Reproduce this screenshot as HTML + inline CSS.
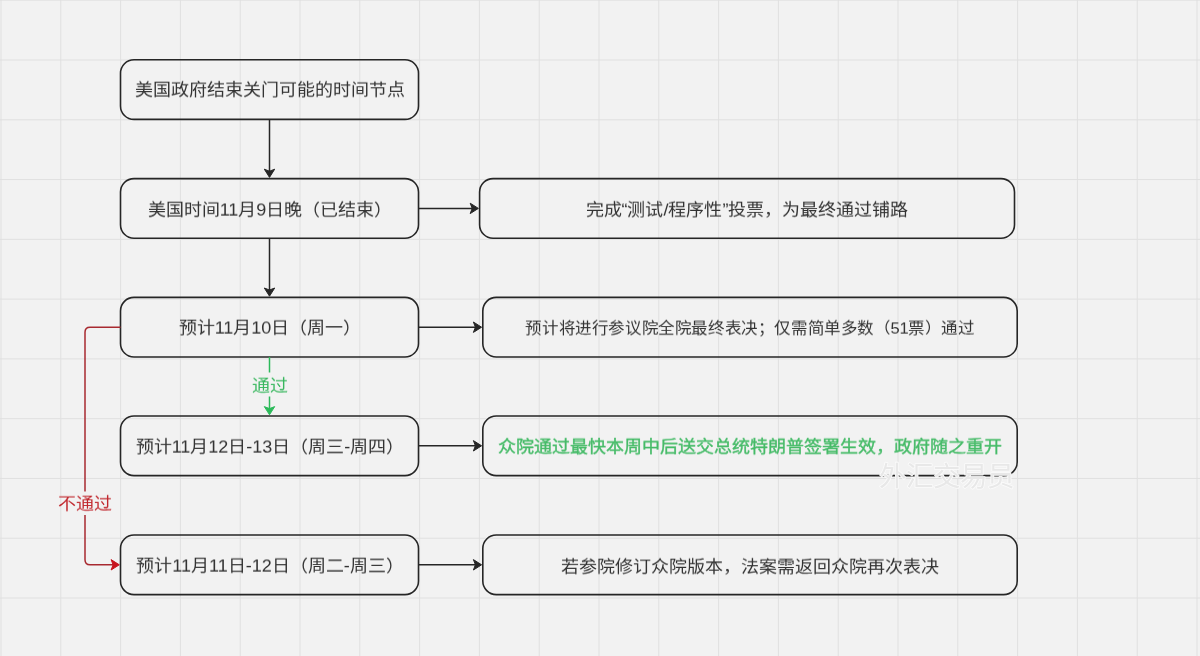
<!DOCTYPE html>
<html lang="zh-CN"><head><meta charset="utf-8"><style>
html,body{margin:0;padding:0;background:#f2f2f2;}
body{width:1200px;height:656px;position:relative;overflow:hidden;font-family:"Liberation Sans", sans-serif;}
svg{position:absolute;left:0;top:0;}
#w{position:absolute;left:0;top:0;width:1200px;height:656px;filter:blur(0.3px);}
.t{position:absolute;will-change:transform;transform:scaleY(0.93);width:600px;height:40px;line-height:40px;text-align:center;white-space:nowrap;}
</style></head><body>
<div id="w">
<svg width="1200" height="656" viewBox="0 0 1200 656">
<rect x="0.50" y="0" width="1" height="656" fill="#e0e0e0"/>
<rect x="60.30" y="0" width="1" height="656" fill="#e0e0e0"/>
<rect x="120.10" y="0" width="1" height="656" fill="#e0e0e0"/>
<rect x="179.90" y="0" width="1" height="656" fill="#e0e0e0"/>
<rect x="239.70" y="0" width="1" height="656" fill="#e0e0e0"/>
<rect x="299.50" y="0" width="1" height="656" fill="#e0e0e0"/>
<rect x="359.30" y="0" width="1" height="656" fill="#e0e0e0"/>
<rect x="419.10" y="0" width="1" height="656" fill="#e0e0e0"/>
<rect x="478.90" y="0" width="1" height="656" fill="#e0e0e0"/>
<rect x="538.70" y="0" width="1" height="656" fill="#e0e0e0"/>
<rect x="598.50" y="0" width="1" height="656" fill="#e0e0e0"/>
<rect x="658.30" y="0" width="1" height="656" fill="#e0e0e0"/>
<rect x="718.10" y="0" width="1" height="656" fill="#e0e0e0"/>
<rect x="777.90" y="0" width="1" height="656" fill="#e0e0e0"/>
<rect x="837.70" y="0" width="1" height="656" fill="#e0e0e0"/>
<rect x="897.50" y="0" width="1" height="656" fill="#e0e0e0"/>
<rect x="957.30" y="0" width="1" height="656" fill="#e0e0e0"/>
<rect x="1017.10" y="0" width="1" height="656" fill="#e0e0e0"/>
<rect x="1076.90" y="0" width="1" height="656" fill="#e0e0e0"/>
<rect x="1136.70" y="0" width="1" height="656" fill="#e0e0e0"/>
<rect x="1196.50" y="0" width="1" height="656" fill="#e0e0e0"/>
<rect x="0" y="-0.28" width="1200" height="1" fill="#e0e0e0"/>
<rect x="0" y="59.50" width="1200" height="1" fill="#e0e0e0"/>
<rect x="0" y="119.28" width="1200" height="1" fill="#e0e0e0"/>
<rect x="0" y="179.06" width="1200" height="1" fill="#e0e0e0"/>
<rect x="0" y="238.84" width="1200" height="1" fill="#e0e0e0"/>
<rect x="0" y="298.62" width="1200" height="1" fill="#e0e0e0"/>
<rect x="0" y="358.40" width="1200" height="1" fill="#e0e0e0"/>
<rect x="0" y="418.18" width="1200" height="1" fill="#e0e0e0"/>
<rect x="0" y="477.96" width="1200" height="1" fill="#e0e0e0"/>
<rect x="0" y="537.74" width="1200" height="1" fill="#e0e0e0"/>
<rect x="0" y="597.52" width="1200" height="1" fill="#e0e0e0"/>
<rect x="120.5" y="59.8" width="298.00" height="59.60" rx="13.5" ry="13.5" fill="none" stroke="#262626" stroke-width="1.6"/>
<rect x="120.5" y="178.6" width="298.00" height="59.60" rx="13.5" ry="13.5" fill="none" stroke="#262626" stroke-width="1.6"/>
<rect x="120.5" y="297.4" width="298.00" height="59.60" rx="13.5" ry="13.5" fill="none" stroke="#262626" stroke-width="1.6"/>
<rect x="120.5" y="416.0" width="298.00" height="59.60" rx="13.5" ry="13.5" fill="none" stroke="#262626" stroke-width="1.6"/>
<rect x="120.5" y="535.0" width="298.00" height="59.60" rx="13.5" ry="13.5" fill="none" stroke="#262626" stroke-width="1.6"/>
<rect x="479.6" y="178.6" width="534.90" height="59.60" rx="13.5" ry="13.5" fill="none" stroke="#262626" stroke-width="1.6"/>
<rect x="482.8" y="297.4" width="534.40" height="59.60" rx="13.5" ry="13.5" fill="none" stroke="#262626" stroke-width="1.6"/>
<rect x="482.8" y="416.0" width="534.40" height="59.60" rx="13.5" ry="13.5" fill="none" stroke="#262626" stroke-width="1.6"/>
<rect x="482.8" y="535.0" width="534.40" height="59.60" rx="13.5" ry="13.5" fill="none" stroke="#262626" stroke-width="1.6"/>
<line x1="269.5" y1="119.4" x2="269.5" y2="172.6" stroke="#262626" stroke-width="1.5"/>
<path d="M269.50,177.40 L264.30,169.20 L269.50,171.20 L274.70,169.20 Z" fill="#262626" stroke="#262626" stroke-width="1" stroke-linejoin="miter"/>
<line x1="269.5" y1="238.2" x2="269.5" y2="291.4" stroke="#262626" stroke-width="1.5"/>
<path d="M269.50,296.20 L264.30,288.00 L269.50,290.00 L274.70,288.00 Z" fill="#262626" stroke="#262626" stroke-width="1" stroke-linejoin="miter"/>
<line x1="418.5" y1="208.40" x2="473.6" y2="208.40" stroke="#262626" stroke-width="1.5"/>
<path d="M478.40,208.40 L470.20,213.60 L472.20,208.40 L470.20,203.20 Z" fill="#262626" stroke="#262626" stroke-width="1" stroke-linejoin="miter"/>
<line x1="418.5" y1="327.20" x2="476.8" y2="327.20" stroke="#262626" stroke-width="1.5"/>
<path d="M481.60,327.20 L473.40,332.40 L475.40,327.20 L473.40,322.00 Z" fill="#262626" stroke="#262626" stroke-width="1" stroke-linejoin="miter"/>
<line x1="418.5" y1="445.80" x2="476.8" y2="445.80" stroke="#262626" stroke-width="1.5"/>
<path d="M481.60,445.80 L473.40,451.00 L475.40,445.80 L473.40,440.60 Z" fill="#262626" stroke="#262626" stroke-width="1" stroke-linejoin="miter"/>
<line x1="418.5" y1="564.80" x2="476.8" y2="564.80" stroke="#262626" stroke-width="1.5"/>
<path d="M481.60,564.80 L473.40,570.00 L475.40,564.80 L473.40,559.60 Z" fill="#262626" stroke="#262626" stroke-width="1" stroke-linejoin="miter"/>
<line x1="269.5" y1="357.0" x2="269.5" y2="372.5" stroke="#2cba5a" stroke-width="1.5"/>
<line x1="269.5" y1="396.5" x2="269.5" y2="410.0" stroke="#2cba5a" stroke-width="1.5"/>
<path d="M269.50,414.80 L264.30,406.60 L269.50,408.60 L274.70,406.60 Z" fill="#2cba5a" stroke="#2cba5a" stroke-width="1" stroke-linejoin="miter"/>
<path d="M120.5,327.20 L90.0,327.20 Q85.0,327.20 85.0,332.20 L85.0,491.5 M85.0,515 L85.0,559.80 Q85.0,564.80 90.0,564.80 L114.5,564.80" fill="none" stroke="#a82a30" stroke-width="1.5"/>
<path d="M119.30,564.80 L111.10,570.00 L113.10,564.80 L111.10,559.60 Z" fill="#c8141e" stroke="#c8141e" stroke-width="1" stroke-linejoin="miter"/>
</svg>
<div class="t" style="left:-30.5px;top:70.2px;font-size:18px;color:#333333;font-weight:normal;">美国政府结束关门可能的时间节点</div><div class="t" style="left:-30.5px;top:189.6px;font-size:18px;color:#333333;font-weight:normal;">美国时间11月9日晚（已结束）</div><div class="t" style="left:-30.5px;top:308.2px;font-size:18px;color:#333333;font-weight:normal;">预计11月10日（周一）</div><div class="t" style="left:-30.5px;top:426.7px;font-size:18px;color:#333333;font-weight:normal;">预计11月12日-13日（周三-周四）</div><div class="t" style="left:-30.5px;top:546.3px;font-size:18px;color:#333333;font-weight:normal;">预计11月11日-12日（周二-周三）</div><div class="t" style="left:447.0px;top:190.1px;font-size:18px;color:#333333;font-weight:normal;">完成“测试/程序性”投票，为最终通过铺路</div><div class="t" style="left:450.0px;top:307.8px;font-size:16.5px;color:#333333;font-weight:normal;letter-spacing:-0.4px;">预计将进行参议院全院最终表决；仅需简单多数（51票）通过</div><div class="t" style="left:450.0px;top:427.2px;font-size:18px;color:#46bb68;font-weight:normal;-webkit-text-stroke:0.4px #46bb68;">众院通过最快本周中后送交总统特朗普签署生效，政府随之重开</div><div class="t" style="left:450.0px;top:547.0px;font-size:18px;color:#333333;font-weight:normal;">若参院修订众院版本，法案需返回众院再次表决</div><div class="t" style="left:-30.5px;top:365.5px;font-size:18px;color:#38b75e;font-weight:normal;">通过</div><div class="t" style="left:-215.0px;top:484.0px;font-size:18px;color:#c0272d;font-weight:normal;">不通过</div>
<svg class="wm" width="1200" height="656" viewBox="0 0 1200 656"><text x="946" y="486" text-anchor="middle" font-family='"Liberation Sans", sans-serif' font-size="27.5" fill="#e8e8e8" stroke="#fbfbfb" stroke-width="1.6" paint-order="stroke" stroke-linejoin="round">外汇交易员</text></svg>
</div>
</body></html>
